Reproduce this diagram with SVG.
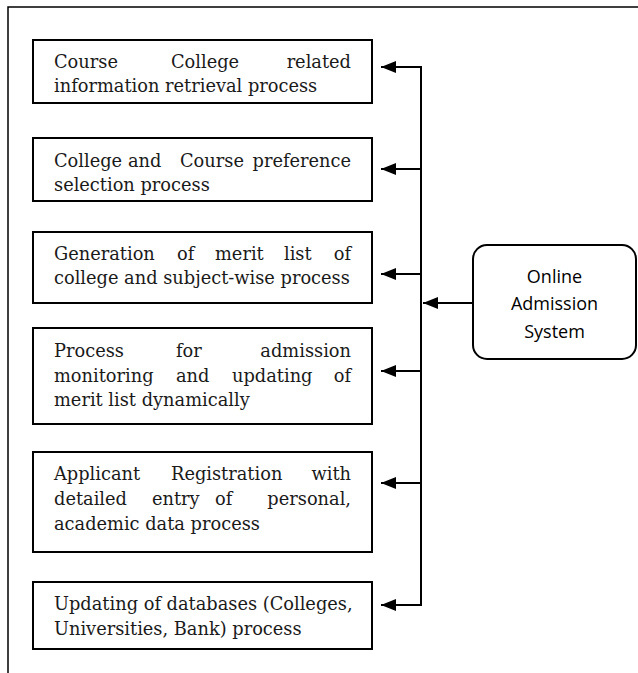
<svg xmlns="http://www.w3.org/2000/svg" width="638" height="673" viewBox="0 0 638 673">
<defs>
<style>
.box{fill:#fff;stroke:#000;stroke-width:2}
.t{font-family:"DejaVu Serif","Liberation Serif",serif;font-size:17.8px;fill:#1a1a1a}
.c{stroke:#000;stroke-width:2;fill:none}
.s{font-family:"Open Sans","Liberation Sans",sans-serif;font-size:18px;fill:#000;text-anchor:middle}
</style>
<marker id="ah" viewBox="0 0 15 12" refX="15" refY="6" markerWidth="15" markerHeight="12" markerUnits="userSpaceOnUse" orient="auto">
<path d="M0,0 L15,6 L0,12 Z" fill="#000"/>
</marker>
</defs>
<g id="frame">
<path d="M8,673 V7 H638" fill="none" stroke="#000" stroke-width="1.5"/>
</g>
<g id="n1">
<rect class="box" x="33" y="40" width="339" height="63"/>
<text class="t" y="68"><tspan x="54">Course</tspan><tspan x="171">College</tspan><tspan x="351" text-anchor="end">related</tspan></text>
<text class="t" x="54" y="92">information retrieval process</text>
</g>
<g id="n2">
<rect class="box" x="33" y="138" width="339" height="63"/>
<text class="t" y="167"><tspan x="54">College</tspan><tspan x="128">and</tspan><tspan x="180">Course</tspan><tspan x="351" text-anchor="end">preference</tspan></text>
<text class="t" x="54" y="191">selection process</text>
</g>
<g id="n3">
<rect class="box" x="33" y="232" width="339" height="71"/>
<text class="t" y="260"><tspan x="54">Generation</tspan><tspan x="177">of</tspan><tspan x="215">merit</tspan><tspan x="284">list</tspan><tspan x="351" text-anchor="end">of</tspan></text>
<text class="t" x="54" y="284">college and subject-wise process</text>
</g>
<g id="n4">
<rect class="box" x="33" y="328" width="339" height="96"/>
<text class="t" y="357"><tspan x="54">Process</tspan><tspan x="176">for</tspan><tspan x="351" text-anchor="end">admission</tspan></text>
<text class="t" y="382"><tspan x="54">monitoring</tspan><tspan x="176">and</tspan><tspan x="232">updating</tspan><tspan x="351" text-anchor="end">of</tspan></text>
<text class="t" x="54" y="406">merit list dynamically</text>
</g>
<g id="n5">
<rect class="box" x="33" y="452" width="339" height="100"/>
<text class="t" y="480"><tspan x="54">Applicant</tspan><tspan x="171">Registration</tspan><tspan x="351" text-anchor="end">with</tspan></text>
<text class="t" y="505"><tspan x="54">detailed</tspan><tspan x="152">entry</tspan><tspan x="215">of</tspan><tspan x="351" text-anchor="end">personal,</tspan></text>
<text class="t" x="54" y="530">academic data process</text>
</g>
<g id="n6">
<rect class="box" x="33" y="582" width="339" height="67"/>
<text class="t" x="54" y="610">Updating of databases (Colleges,</text>
<text class="t" x="54" y="635">Universities, Bank) process</text>
</g>
<g id="oas">
<rect class="box" x="473" y="245" width="163" height="114" rx="14" ry="14"/>
<text class="s" x="554.5" y="283">Online</text>
<text class="s" x="554.5" y="310">Admission</text>
<text class="s" x="554.5" y="338">System</text>
</g>
<g id="connectors">
<line class="c" x1="421" y1="66" x2="421" y2="606"/>
<line class="c" x1="473" y1="303" x2="423" y2="303" marker-end="url(#ah)"/>
<line class="c" x1="421" y1="67" x2="381" y2="67" marker-end="url(#ah)"/>
<line class="c" x1="421" y1="169" x2="381" y2="169" marker-end="url(#ah)"/>
<line class="c" x1="421" y1="274" x2="381" y2="274" marker-end="url(#ah)"/>
<line class="c" x1="421" y1="371" x2="381" y2="371" marker-end="url(#ah)"/>
<line class="c" x1="421" y1="483" x2="381" y2="483" marker-end="url(#ah)"/>
<line class="c" x1="421" y1="605" x2="381" y2="605" marker-end="url(#ah)"/>
</g>
</svg>
